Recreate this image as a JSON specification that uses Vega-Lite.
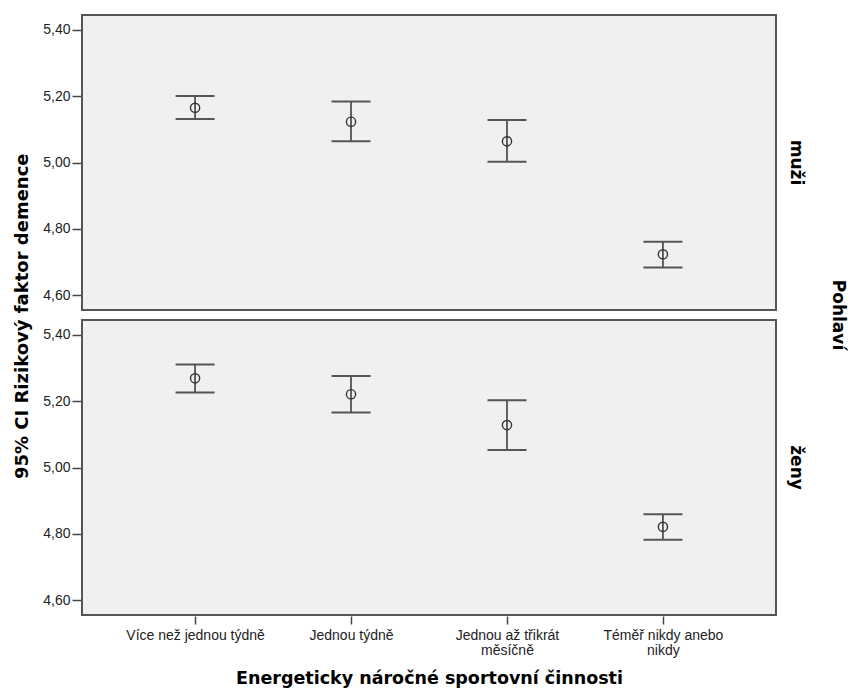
{
  "$schema": "https://vega.github.io/schema/vega-lite/v6.json",
  "padding": {"left": 13, "top": 14, "right": 5, "bottom": 5},
  "background": "white",
  "title": {
    "text": "95% CI Rizikový faktor demence",
    "orient": "left",
    "anchor": "middle",
    "font": "DejaVu Sans",
    "fontWeight": "bold",
    "fontSize": 18,
    "color": "#000",
    "offset": 11,
    "dx": 34
  },
  "data": {
    "values": [
      {"pohlavi": "muži", "cinnost": "Více než jednou týdně", "prumer": 5.165, "dolni": 5.131, "horni": 5.201},
      {"pohlavi": "muži", "cinnost": "Jednou týdně", "prumer": 5.123, "dolni": 5.064, "horni": 5.184},
      {"pohlavi": "muži", "cinnost": "Jednou až třikrát měsíčně", "prumer": 5.064, "dolni": 5.002, "horni": 5.128},
      {"pohlavi": "muži", "cinnost": "Téměř nikdy anebo nikdy", "prumer": 4.723, "dolni": 4.683, "horni": 4.761},
      {"pohlavi": "ženy", "cinnost": "Více než jednou týdně", "prumer": 5.269, "dolni": 5.226, "horni": 5.311},
      {"pohlavi": "ženy", "cinnost": "Jednou týdně", "prumer": 5.221, "dolni": 5.166, "horni": 5.276},
      {"pohlavi": "ženy", "cinnost": "Jednou až třikrát měsíčně", "prumer": 5.128, "dolni": 5.053, "horni": 5.203},
      {"pohlavi": "ženy", "cinnost": "Téměř nikdy anebo nikdy", "prumer": 4.821, "dolni": 4.782, "horni": 4.859}
    ]
  },
  "facet": {
    "row": {
      "field": "pohlavi",
      "type": "nominal",
      "sort": ["muži", "ženy"],
      "title": "Pohlaví",
      "header": {
        "labelOrient": "right",
        "labelAngle": 90,
        "labelFont": "DejaVu Sans",
        "labelFontWeight": "bold",
        "labelFontSize": 17,
        "labelColor": "#000",
        "labelPadding": 10,
        "titleOrient": "right",
        "titleAngle": 90,
        "titleFont": "DejaVu Sans",
        "titleFontWeight": "bold",
        "titleFontSize": 17,
        "titleColor": "#000",
        "titlePadding": 14
      }
    }
  },
  "spacing": {"row": 8},
  "spec": {
    "width": 694,
    "height": 295,
    "encoding": {
      "x": {
        "field": "cinnost",
        "type": "nominal",
        "sort": ["Více než jednou týdně", "Jednou týdně", "Jednou až třikrát měsíčně", "Téměř nikdy anebo nikdy"],
        "scale": {"type": "point", "padding": 0.725},
        "title": "Energeticky náročné sportovní činnosti",
        "axis": {
          "labelAngle": 0,
          "labelFont": "Liberation Sans",
          "labelFontSize": 14,
          "labelColor": "#222",
          "labelLineHeight": 15,
          "labelPadding": 4,
          "tickSize": 8,
          "tickWidth": 1.5,
          "tickColor": "#444",
          "domain": false,
          "titleFont": "DejaVu Sans",
          "titleFontWeight": "bold",
          "titleFontSize": 17.5,
          "titleColor": "#000",
          "titlePadding": 12,
          "labelExpr": "datum.label == 'Jednou až třikrát měsíčně' ? ['Jednou až třikrát', 'měsíčně'] : datum.label == 'Téměř nikdy anebo nikdy' ? ['Téměř nikdy anebo', 'nikdy'] : datum.label"
        }
      }
    },
    "layer": [
      {
        "mark": {"type": "rule", "color": "#333", "strokeWidth": 1.5},
        "encoding": {
          "y": {
            "field": "dolni",
            "type": "quantitative",
            "scale": {"domain": [4.555, 5.445], "nice": false, "zero": false},
            "title": null,
            "axis": {
              "values": [4.6, 4.8, 5.0, 5.2, 5.4],
              "labelExpr": "replace(format(datum.value, '.2f'), '.', ',')",
              "labelFont": "Liberation Sans",
              "labelFontSize": 14,
              "labelColor": "#222",
              "labelPadding": 2,
              "tickSize": 9,
              "tickWidth": 1.5,
              "tickColor": "#444",
              "domain": false,
              "grid": false
            }
          },
          "y2": {"field": "horni"}
        }
      },
      {
        "mark": {"type": "tick", "orient": "horizontal", "size": 39, "thickness": 2, "color": "#555", "opacity": 1},
        "encoding": {"y": {"field": "dolni", "type": "quantitative"}}
      },
      {
        "mark": {"type": "tick", "orient": "horizontal", "size": 39, "thickness": 2, "color": "#555", "opacity": 1},
        "encoding": {"y": {"field": "horni", "type": "quantitative"}}
      },
      {
        "mark": {"type": "point", "shape": "circle", "filled": false, "size": 85, "stroke": "#333", "strokeWidth": 1.4, "opacity": 1},
        "encoding": {"y": {"field": "prumer", "type": "quantitative"}}
      }
    ]
  },
  "config": {
    "view": {"fill": "#f0f0f0", "stroke": "#555", "strokeWidth": 2}
  }
}
